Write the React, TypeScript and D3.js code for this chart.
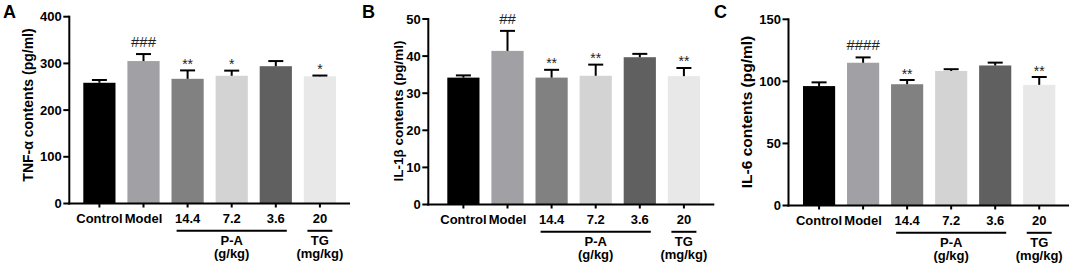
import React from "react";
import * as d3 from "d3";

const categories = ["Control", "Model", "14.4", "7.2", "3.6", "20"];
const barColors = ["#000000", "#a0a0a5", "#818181", "#d3d3d3", "#606060", "#e8e8e8"];

const tnfMeans = [258.5, 305, 267, 273.5, 294, 272.5];
const tnfSd = [6, 15, 18, 11, 11, 1.5];
const tnfMarks = ["", "###", "**", "*", "", "*"];
const tnfTicks = [0, 100, 200, 300, 400];

const il1Means = [34.2, 41.4, 34.2, 34.7, 39.7, 34.6];
const il1Sd = [0.6, 5.4, 2.1, 3.0, 0.9, 2.2];
const il1Marks = ["", "##", "**", "**", "", "**"];
const il1Ticks = [0, 10, 20, 30, 40, 50];

const il6Means = [96.2, 115, 97.7, 108.4, 112.8, 97.2];
const il6Sd = [3, 4.3, 3.4, 1.4, 2.3, 6.3];
const il6Marks = ["", "####", "**", "", "", "**"];
const il6Ticks = [0, 50, 100, 150];

const FONT = "'Liberation Sans', Arial, Helvetica, sans-serif";

type PanelProps = {
  letter: string;
  letterX: number;
  yLabel: string;
  yLabelX: number;
  yLabelY: number;
  yLabelSize: number;
  means: number[];
  sds: number[];
  marks: string[];
  ticks: number[];
  yMax: number;
  axisX: number;
  axisEnd: number;
  bandStart: number;
  bandEnd: number;
  y0: number;
  yTop: number;
};

function Panel(p: PanelProps) {
  const x = d3.scaleBand<string>().domain(categories).range([p.bandStart, p.bandEnd]).paddingInner(0.27).paddingOuter(0);
  const y = d3.scaleLinear().domain([0, p.yMax]).range([p.y0, p.yTop]);
  const bw = x.bandwidth();
  const cx = (c: string) => (x(c) as number) + bw / 2;
  const paL = cx("14.4") - 11;
  const paR = cx("3.6") + 11;
  const tgC = cx("20");
  const lineY = p.y0 + 27.3;
  return (
    <g fontFamily={FONT}>
      <text x={p.letterX} y={17.5} fontSize={18} fontWeight="bold">{p.letter}</text>
      <text
        transform={`translate(${p.yLabelX},${p.yLabelY}) rotate(-90)`}
        textAnchor="middle"
        dy="0.32em"
        fontSize={p.yLabelSize}
        fontWeight="bold"
      >
        {p.yLabel}
      </text>
      {categories.map((c, i) => (
        <rect key={c} x={x(c)} y={y(p.means[i])} width={bw} height={p.y0 - y(p.means[i])} fill={barColors[i]} />
      ))}
      {categories.map((c, i) => {
        const top = y(p.means[i] + p.sds[i]);
        return (
          <g key={"e" + c} stroke="#000" strokeWidth={2}>
            <line x1={cx(c)} x2={cx(c)} y1={y(p.means[i])} y2={top} />
            <line x1={cx(c) - 7.5} x2={cx(c) + 7.5} y1={top} y2={top} />
          </g>
        );
      })}
      {categories.map((c, i) => {
        const m = p.marks[i];
        if (!m) return null;
        const top = y(p.means[i] + p.sds[i]);
        const isHash = m.startsWith("#");
        return (
          <text key={"m" + c} x={cx(c)} y={isHash ? top - 7 : top - 1.5} textAnchor="middle" fontSize={isHash ? 15 : 14} fill="#222">
            {m}
          </text>
        );
      })}
      <line x1={p.axisX} x2={p.axisX} y1={p.yTop - 1} y2={p.y0 + 1} stroke="#000" strokeWidth={2} />
      <line x1={p.axisX - 1} x2={p.axisEnd} y1={p.y0} y2={p.y0} stroke="#000" strokeWidth={2} />
      {p.ticks.map((t) => (
        <g key={"t" + t}>
          <line x1={p.axisX - 6} x2={p.axisX} y1={y(t)} y2={y(t)} stroke="#000" strokeWidth={2} />
          <text x={p.axisX - 7.5} y={y(t)} dy="0.36em" textAnchor="end" fontSize={13} fontWeight="bold">
            {t}
          </text>
        </g>
      ))}
      {categories.map((c) => (
        <g key={"x" + c}>
          <line x1={cx(c)} x2={cx(c)} y1={p.y0} y2={p.y0 + 4} stroke="#000" strokeWidth={2} />
          <text x={cx(c)} y={p.y0 + 19.5} textAnchor="middle" fontSize={13} fontWeight="bold">
            {c}
          </text>
        </g>
      ))}
      <line x1={paL} x2={paR} y1={lineY} y2={lineY} stroke="#000" strokeWidth={2} />
      <line x1={tgC - 12.5} x2={tgC + 12.5} y1={lineY} y2={lineY} stroke="#000" strokeWidth={2} />
      <text x={(paL + paR) / 2} y={p.y0 + 41} textAnchor="middle" fontSize={13} fontWeight="bold">P-A</text>
      <text x={(paL + paR) / 2} y={p.y0 + 54.5} textAnchor="middle" fontSize={13} fontWeight="bold">(g/kg)</text>
      <text x={tgC} y={p.y0 + 41} textAnchor="middle" fontSize={13} fontWeight="bold">TG</text>
      <text x={tgC} y={p.y0 + 54.5} textAnchor="middle" fontSize={13} fontWeight="bold">(mg/kg)</text>
    </g>
  );
}

export default function App() {
  return (
    <svg width={1072} height={266} style={{ position: "absolute", left: 0, top: 0, background: "#fff" }}>
      <rect width={1072} height={266} fill="#fff" />
      <Panel
        letter="A" letterX={3}
        yLabel="TNF-α contents (pg/ml)" yLabelX={28.5} yLabelY={105} yLabelSize={14}
        means={tnfMeans} sds={tnfSd} marks={tnfMarks} ticks={tnfTicks} yMax={400}
        axisX={69.3} axisEnd={350} bandStart={83.3} bandEnd={336} y0={203.5} yTop={16.7}
      />
      <Panel
        letter="B" letterX={362}
        yLabel="IL-1β contents (pg/ml)" yLabelX={399} yLabelY={111} yLabelSize={13.5}
        means={il1Means} sds={il1Sd} marks={il1Marks} ticks={il1Ticks} yMax={50}
        axisX={428.3} axisEnd={714.3} bandStart={447.3} bandEnd={700} y0={204.5} yTop={19}
      />
      <Panel
        letter="C" letterX={714}
        yLabel="IL-6 contents (pg/ml)" yLabelX={747} yLabelY={112} yLabelSize={15.5}
        means={il6Means} sds={il6Sd} marks={il6Marks} ticks={il6Ticks} yMax={150}
        axisX={788.5} axisEnd={1069} bandStart={803} bandEnd={1055.3} y0={205.5} yTop={19.3}
      />
    </svg>
  );
}
